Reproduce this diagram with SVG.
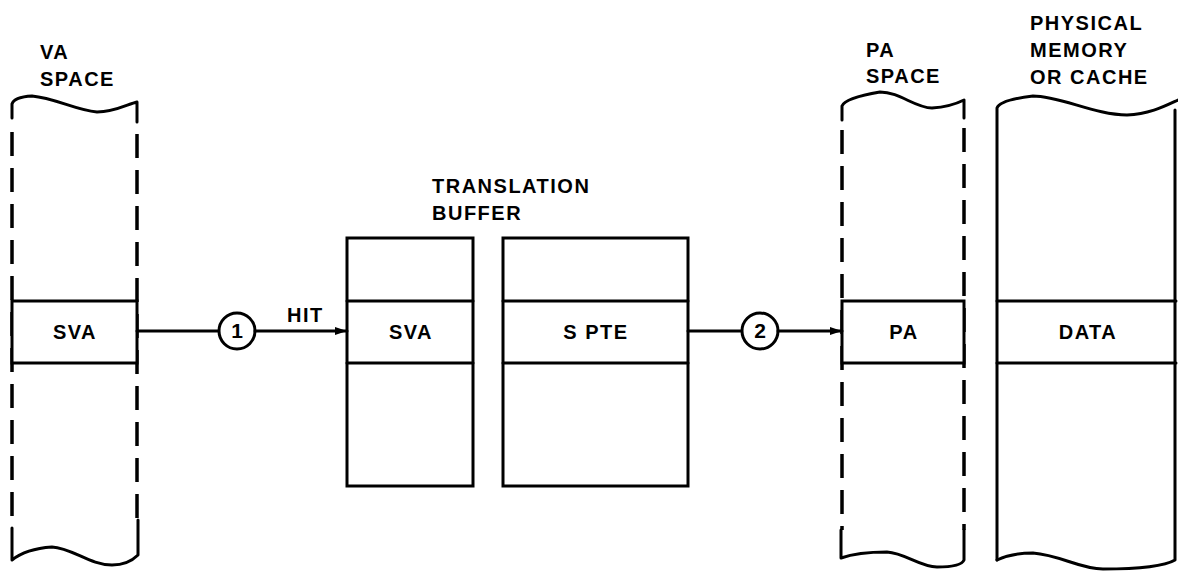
<svg xmlns="http://www.w3.org/2000/svg" width="1178" height="571" viewBox="0 0 1178 571">
<defs>
<style>
.ln{fill:none;stroke:#000;stroke-width:3;stroke-linecap:round;stroke-linejoin:round}
.dash{fill:none;stroke:#000;stroke-width:3.5;stroke-dasharray:24 12}
.box{fill:#fff;stroke:#000;stroke-width:3}
.t{font-family:"Liberation Sans",Arial,sans-serif;font-size:20px;font-weight:bold;letter-spacing:1.5px;fill:#000}
.c{text-anchor:middle}
</style>
<marker id="ah" viewBox="0 0 12 8" refX="12" refY="4" markerWidth="12" markerHeight="8" markerUnits="userSpaceOnUse" orient="auto">
<path d="M0,0 L12,4 L0,8 Z" fill="#000"/>
</marker>
</defs>
<rect width="1178" height="571" fill="#fff"/>

<g id="va-space">
<text class="t" x="40" y="59">VA</text>
<text class="t" x="40" y="86">SPACE</text>
<path class="ln" d="M12,118 L12,104 Q14,97 32,96 C55,98 75,110 97,112 C115,112 128,104 137,102 L137,122"/>
<line class="dash" x1="12" y1="132" x2="12" y2="528"/>
<line class="dash" x1="137" y1="134" x2="137" y2="520"/>
<path class="ln" d="M12,528 L12,560 C22,552 38,548 52,547 C72,548 90,565 112,565 C125,565 133,560 138,555 L138,520"/>
<rect class="box" x="12" y="301" width="125" height="62"/>
<text class="t c" x="75" y="339">SVA</text>
</g>

<g id="translation-buffer">
<text class="t" x="432" y="193">TRANSLATION</text>
<text class="t" x="432" y="220">BUFFER</text>
</g>

<g id="tb-sva">
<rect class="box" x="347" y="238" width="126" height="248"/>
<line class="ln" x1="347" y1="301" x2="473" y2="301"/>
<line class="ln" x1="347" y1="363" x2="473" y2="363"/>
<text class="t c" x="411" y="339">SVA</text>
</g>

<g id="tb-spte">
<rect class="box" x="503" y="238" width="185" height="248"/>
<line class="ln" x1="503" y1="301" x2="688" y2="301"/>
<line class="ln" x1="503" y1="363" x2="688" y2="363"/>
<text class="t c" x="596" y="339">S PTE</text>
</g>

<g id="pa-space">
<text class="t" x="866" y="57">PA</text>
<text class="t" x="866" y="83">SPACE</text>
<path class="ln" d="M842,120 L842,106 Q845,98 880,92 C900,92 915,108 932,108 C948,107 958,103 964,100 L964,118"/>
<line class="dash" x1="842" y1="130" x2="842" y2="530"/>
<line class="dash" x1="964" y1="128" x2="964" y2="530"/>
<path class="ln" d="M841,530 L841,558 C855,553 872,552 887,552 C905,553 920,567 937,567 C952,567 962,565 964,560 L964,530"/>
<rect class="box" x="842" y="301" width="122" height="62"/>
<text class="t c" x="904" y="339">PA</text>
</g>

<g id="physical-memory">
<text class="t" x="1030" y="30">PHYSICAL</text>
<text class="t" x="1030" y="57">MEMORY</text>
<text class="t" x="1030" y="84">OR CACHE</text>
<path class="ln" d="M997,560 L997,108 Q1000,100 1033,96 C1060,96 1095,115 1127,115 C1150,114 1165,106 1178,100"/>
<path class="ln" d="M997,560 C1008,555 1020,553 1033,553 C1060,555 1080,569 1103,569 C1140,569 1165,566 1175,560 L1175,110"/>
<line class="ln" x1="997" y1="301" x2="1176" y2="301"/>
<line class="ln" x1="997" y1="363" x2="1176" y2="363"/>
<text class="t c" x="1088" y="339">DATA</text>
</g>

<g id="connectors">
<line class="ln" x1="137" y1="331" x2="219" y2="331"/>
<circle class="box" cx="237" cy="331" r="18"/>
<text class="t c" x="237" y="338" style="letter-spacing:0;font-size:21px">1</text>
<line class="ln" x1="255" y1="331" x2="347" y2="331" marker-end="url(#ah)"/>
<text class="t" x="287" y="322">HIT</text>
<line class="ln" x1="688" y1="331" x2="742" y2="331"/>
<circle class="box" cx="760" cy="331" r="18"/>
<text class="t c" x="760" y="338" style="letter-spacing:0;font-size:21px">2</text>
<line class="ln" x1="778" y1="331" x2="842" y2="331" marker-end="url(#ah)"/>
</g>
</svg>
